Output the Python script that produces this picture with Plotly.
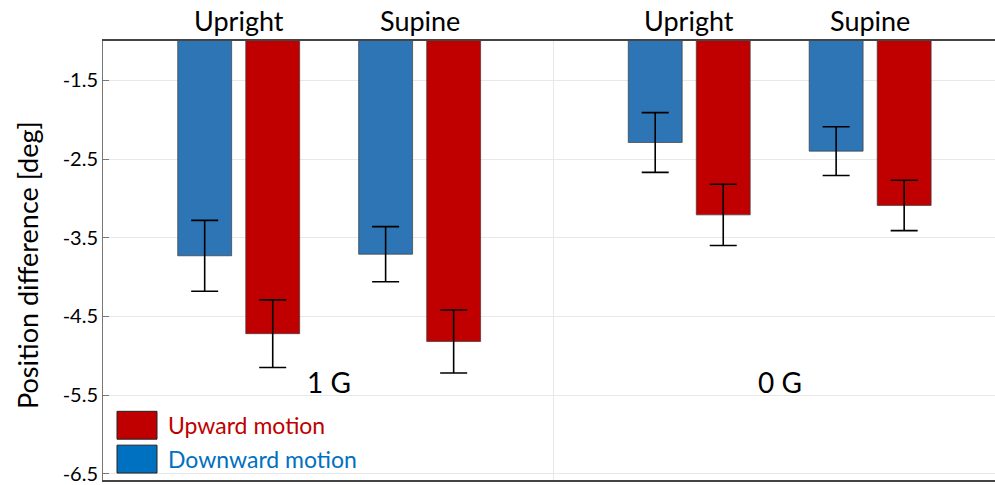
import plotly.graph_objects as go

# Conditions (gravity level x posture)
postures = ["Upright", "Supine", "Upright", "Supine"]
gravity_labels = ["1 G", "0 G"]

# Mean position difference [deg] and error (±)
upward_mean = [-4.72, -4.82, -3.21, -3.09]
upward_err = [0.43, 0.40, 0.39, 0.32]
downward_mean = [-3.73, -3.71, -2.29, -2.40]
downward_err = [0.45, 0.35, 0.38, 0.31]

y_ticks = [-1.5, -2.5, -3.5, -4.5, -5.5, -6.5]

# layout helpers
group_x = [1.0, 2.0, 3.49, 4.49]
gravity_x = [1.5, 3.99]
offset = 0.188
bar_w = 0.298
font = "Lato, 'Open Sans', sans-serif"

RED = "#C00000"
BLUE = "#2E75B6"

fig = go.Figure()
fig.add_trace(go.Bar(
    x=[g - offset for g in group_x], y=downward_mean, width=bar_w,
    base=0, name="Downward motion",
    marker=dict(color=BLUE, line=dict(color="rgba(60,60,60,0.7)", width=1)),
    error_y=dict(type="data", array=downward_err, color="black", thickness=1.6, width=13.5),
))
fig.add_trace(go.Bar(
    x=[g + offset for g in group_x], y=upward_mean, width=bar_w,
    base=0, name="Upward motion",
    marker=dict(color=RED, line=dict(color="rgba(60,60,60,0.7)", width=1)),
    error_y=dict(type="data", array=upward_err, color="black", thickness=1.6, width=13.5),
))

annotations = []
for gx, p in zip(group_x, postures):
    annotations.append(dict(x=gx, y=1, xref="x", yref="paper", yanchor="bottom", yshift=2,
                            text=p, showarrow=False, font=dict(family=font, size=27, color="black")))
for gx, g in zip(gravity_x, gravity_labels):
    annotations.append(dict(x=gx, y=-5.33, xref="x", yref="y",
                            text=g, showarrow=False, font=dict(family=font, size=28, color="black")))

# legend box
legend_items = [("Upward motion", RED, RED, 413), ("Downward motion", "#0070C0", "#0070C0", 447)]
shapes = []
for label, fill, txtcol, top in legend_items:
    shapes.append(dict(type="rect", xref="paper", yref="paper",
                       x0=(117 - 103) / 892, x1=(157 - 103) / 892,
                       y0=(482 - top - 28) / 441, y1=(482 - top) / 441,
                       fillcolor=fill, line=dict(color="#222", width=1)))
    annotations.append(dict(xref="paper", yref="paper", x=(166 - 103) / 892, y=(482 - top - 14) / 441,
                            xanchor="left", yanchor="middle", text=label, showarrow=False,
                            font=dict(family=font, size=23, color=txtcol)))

annotations.append(dict(xref="paper", yref="paper", x=-0.084, y=0.49, xanchor="center", yanchor="middle",
                        text="Position difference [deg]", textangle=-90, showarrow=False,
                        font=dict(family=font, size=27, color="black")))

fig.update_layout(
    width=995, height=485,
    margin=dict(l=103, r=0, t=41, b=3),
    paper_bgcolor="white", plot_bgcolor="white",
    showlegend=False, barmode="overlay",
    annotations=annotations, shapes=shapes,
    xaxis=dict(range=[0.25, 5.18], tickvals=[2.74], showticklabels=False, ticks="",
               showgrid=True, gridcolor="#E8E8E8", gridwidth=1, zeroline=False,
               showline=True, mirror=True, linecolor="#444", linewidth=1.5),
    yaxis=dict(range=[-6.58, -1.0], tickvals=y_ticks, ticktext=[str(t) for t in y_ticks],
               showgrid=True, gridcolor="#E8E8E8", gridwidth=1, zeroline=False,
               ticks="inside", ticklen=6, tickcolor="#777", ticklabeloverflow="allow",
               showline=True, linecolor="#777", linewidth=1,
               tickfont=dict(family=font, size=20, color="black")),
)

fig.write_html("out.html")
